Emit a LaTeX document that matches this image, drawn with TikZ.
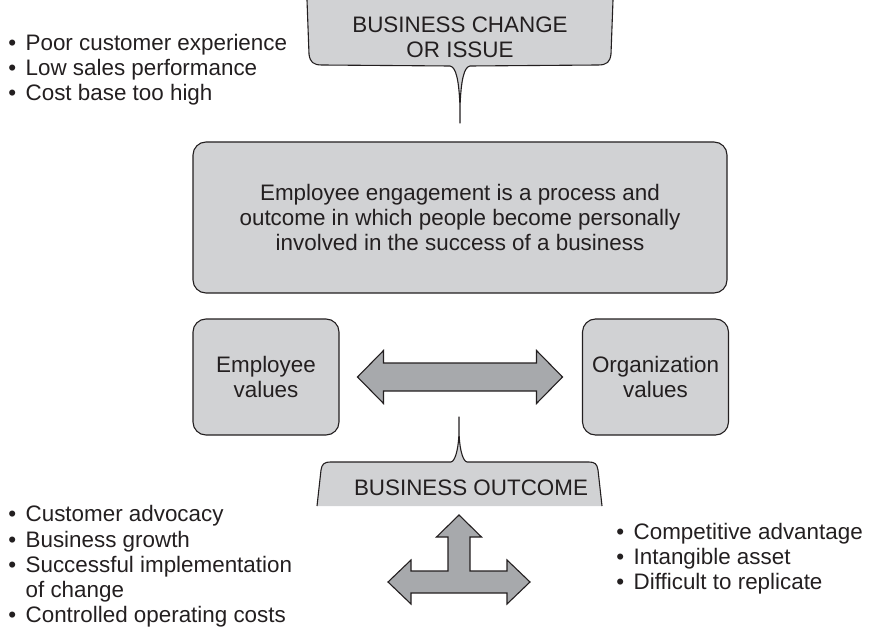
\documentclass[tikz,border=0pt]{standalone}
\usepackage{fontspec}
\setmainfont{Liberation Sans}
\definecolor{ink}{HTML}{231F20}
\definecolor{panel}{HTML}{D1D2D4}
\definecolor{arrow_gray}{HTML}{A7A9AC}
\newcommand{\bul}{\textbullet\hspace{0.42em}}
\tikzset{
  body_font/.style = {font=\fontsize{11.2}{12.6}\selectfont},
  outline/.style = {draw=ink, line width=0.55pt}
}
\tikzset{
  panel_box/.style = {body_font, outline, fill=panel, rounded corners=6.5pt, align=center, text=ink, inner sep=0},
  half_box/.style = {panel_box, minimum width=73pt, minimum height=58pt},
  callout/.style = {outline, fill=panel, line join=round},
  fat_arrow/.style = {outline, fill=arrow_gray, line join=miter},
  caption/.style = {body_font, align=center, text=ink},
  bullets/.style = {body_font, align=left, anchor=west, text=ink, inner sep=0}
}
\begin{document}
\begin{tikzpicture}[x=0.5pt, y=-0.5pt]
        \useasboundingbox (0,0) rectangle (873,631);

        % Callouts
        \draw[callout] (307,0) -- (309,54) .. controls (310,62) and (313,65) .. (322,65)
            -- (450,66) .. controls (456,67) and (459,80) .. (460,107) -- (460,123)
            -- (460,107) .. controls (461,80) and (464,67) .. (470,66)
            -- (598,65) .. controls (607,65) and (610,62) .. (611,54) -- (613,0);
        \node[caption] (change) at (460,37) {BUSINESS CHANGE\\OR ISSUE};

        \draw[callout] (317,506) -- (321,470) .. controls (322,464) and (324,462) .. (331,462)
            -- (451,462) .. controls (456,461) and (459,445) .. (459,430) -- (459,417)
            -- (459,430) .. controls (459,445) and (462,461) .. (467,462)
            -- (589,462) .. controls (595,462) and (597,464) .. (598,470) -- (602,506);
        \node[caption] (outcome) at (471,488) {BUSINESS OUTCOME};

        % Boxes
        \node[panel_box, minimum width=267pt, minimum height=75.5pt] (engage) at (460,217.5) {
            Employee engagement is a process and\\
            outcome in which people become personally\\
            involved in the success of a business
            };
        \node[half_box] (emp) at (266,377) {Employee\\values};
        \node[half_box] (org) at (655.5,377) {Organization\\values};

        % Bullet lists
        \node[bullets] (issues) at (8,70) {
            \bul Poor customer experience\\
            \bul Low sales performance\\
            \bul Cost base too high
            };
        \node[bullets] (results) at (8,566.5) {
            \bul Customer advocacy\\
            \bul Business growth\\
            \bul Successful implementation\\
            \phantom{\bul}of change\\
            \bul Controlled operating costs
            };
        \node[bullets] (assets) at (616,559) {
            \bul Competitive advantage\\
            \bul Intangible asset\\
            \bul Difficult to replicate
            };

        % Arrows
        \coordinate (link) at (emp.east -| engage.center);
        \begin{scope}[shift={(link)}]
            \draw[fat_arrow] (-102.5,0) -- (-76.5,-26.5) -- (-76.5,-14) -- (76.5,-14)
                -- (76.5,-26.5) -- (102.5,0) -- (76.5,26.5) -- (76.5,14)
                -- (-76.5,14) -- (-76.5,26.5) -- cycle;
        \end{scope}

        \coordinate (spread) at (459,582);
        \begin{scope}[shift={(spread)}]
            \draw[fat_arrow] (-71,0) -- (-48,-22) -- (-48,-11) -- (-11,-11) -- (-11,-45)
                -- (-22.5,-45) -- (0,-67) -- (22.5,-45) -- (11,-45) -- (11,-11)
                -- (48,-11) -- (48,-22) -- (71,0) -- (48,22) -- (48,11)
                -- (-48,11) -- (-48,22) -- cycle;
        \end{scope}
\end{tikzpicture}
\end{document}
